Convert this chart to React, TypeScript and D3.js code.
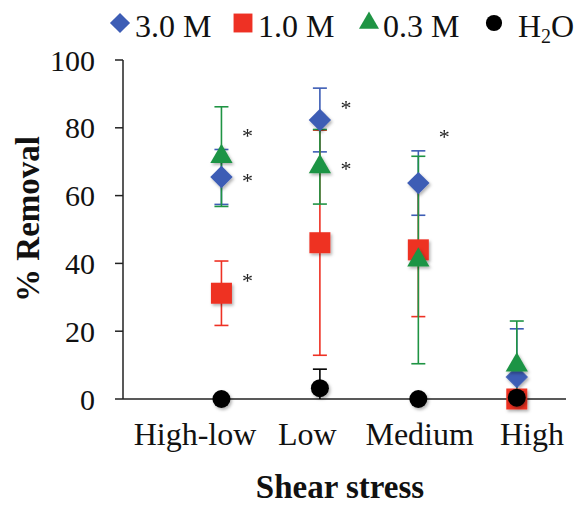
import * as d3 from "d3";
import { useEffect, useRef } from "react";

const CATEGORIES = ["High-low", "Low", "Medium", "High"];
const Y_TICKS = [0, 20, 40, 60, 80, 100];

const MEAN_3M = [65.5, 82.3, 63.7, 6.5];
const ERR_3M = [8.1, 9.4, 9.5, 14.2];
const MEAN_1M = [31.2, 46.1, 44, 0];
const ERR_1M = [9.5, 33.2, 19.7, 0];
const MEAN_03M = [71.5, 68.5, 41, 10];
const ERR_03M = [14.7, 11, 30.6, 13];
const MEAN_H2O = [0, 3.2, 0, 0.4];
const ERR_H2O = [0, 5.6, 0, 0];

// significance stars: category index, y value
const STAR_CAT = [0, 0, 0, 1, 1, 2];
const STAR_VAL = [78.8, 65.5, 36, 87, 69, 78.5];

const FONT = "'Liberation Serif', 'Times New Roman', serif";

type Series = {
  name: string;
  color: string;
  shape: "diamond" | "square" | "triangle" | "circle";
  mean: number[];
  err: number[];
};

const SERIES: Series[] = [
  { name: "3.0 M", color: "#3d5db5", shape: "diamond", mean: MEAN_3M, err: ERR_3M },
  { name: "1.0 M", color: "#ee3124", shape: "square", mean: MEAN_1M, err: ERR_1M },
  { name: "0.3 M", color: "#1f9444", shape: "triangle", mean: MEAN_03M, err: ERR_03M },
  { name: "H2O", color: "#000000", shape: "circle", mean: MEAN_H2O, err: ERR_H2O },
];

function symbolPath(shape: Series["shape"], scale = 1) {
  if (shape === "diamond") return d3.symbol(d3.symbolSquare, 250 * scale * scale)()!;
  if (shape === "square") return d3.symbol(d3.symbolSquare, 441 * scale * scale)()!;
  if (shape === "triangle") return d3.symbol(d3.symbolTriangle, 215 * scale * scale)()!;
  return d3.symbol(d3.symbolCircle, 254 * scale * scale)()!;
}

export default function App() {
  const ref = useRef<SVGSVGElement | null>(null);

  useEffect(() => {
    const svg = d3.select(ref.current);
    svg.selectAll("*").remove();

    const width = 583;
    const height = 506;
    svg.attr("viewBox", `0 0 ${width} ${height}`);

    const defs = svg.append("defs");
    defs
      .append("filter")
      .attr("id", "shadow")
      .attr("x", "-50%")
      .attr("y", "-50%")
      .attr("width", "200%")
      .attr("height", "200%")
      .append("feDropShadow")
      .attr("dx", 1.5)
      .attr("dy", 2)
      .attr("stdDeviation", 1.5)
      .attr("flood-opacity", 0.3);

    const x = d3.scaleLinear().domain([0, 4.5]).range([123, 566]);
    const xLabel = d3.scaleLinear().domain([1, 4]).range([195, 532]);
    const y = d3.scaleLinear().domain([0, 100]).range([399, 60]);

    // y axis
    svg
      .append("line")
      .attr("x1", x(0))
      .attr("x2", x(0))
      .attr("y1", y(0))
      .attr("y2", y(100))
      .attr("stroke", "#222")
      .attr("stroke-width", 1.5);
    Y_TICKS.forEach((t) => {
      svg
        .append("line")
        .attr("x1", x(0) - 8)
        .attr("x2", x(0))
        .attr("y1", y(t))
        .attr("y2", y(t))
        .attr("stroke", "#222")
        .attr("stroke-width", 1.5);
      svg
        .append("text")
        .attr("x", 95)
        .attr("y", y(t))
        .attr("dy", "0.35em")
        .attr("text-anchor", "end")
        .attr("font-family", FONT)
        .attr("font-size", 30)
        .attr("fill", "#111")
        .text(t);
    });

    // x axis
    svg
      .append("line")
      .attr("x1", x(0))
      .attr("x2", x(4.5))
      .attr("y1", y(0))
      .attr("y2", y(0))
      .attr("stroke", "#222")
      .attr("stroke-width", 1.5);

    CATEGORIES.forEach((c, i) => {
      svg
        .append("text")
        .attr("x", xLabel(i + 1))
        .attr("y", 445)
        .attr("text-anchor", "middle")
        .attr("font-family", FONT)
        .attr("font-size", 32)
        .attr("fill", "#111")
        .text(c);
    });

    svg
      .append("text")
      .attr("x", 340)
      .attr("y", 498)
      .attr("text-anchor", "middle")
      .attr("font-family", FONT)
      .attr("font-size", 33)
      .attr("font-weight", "bold")
      .attr("fill", "#111")
      .text("Shear stress");

    svg
      .append("text")
      .attr("transform", "translate(39,219) rotate(-90)")
      .attr("text-anchor", "middle")
      .attr("font-family", FONT)
      .attr("font-size", 33)
      .attr("font-weight", "bold")
      .attr("fill", "#111")
      .text("% Removal");

    // error bars
    const cap = 7;
    SERIES.forEach((s) => {
      s.mean.forEach((m, i) => {
        if (s.err[i] <= 0) return;
        const cx = x(i + 1);
        const hi = m + s.err[i];
        const lo = Math.max(0, m - s.err[i]);
        const g = svg.append("g").attr("stroke", s.color).attr("stroke-width", 1.6);
        g.append("line").attr("x1", cx).attr("x2", cx).attr("y1", y(hi)).attr("y2", y(lo));
        g.append("line").attr("x1", cx - cap).attr("x2", cx + cap).attr("y1", y(hi)).attr("y2", y(hi));
        if (m - s.err[i] > 0) {
          g.append("line").attr("x1", cx - cap).attr("x2", cx + cap).attr("y1", y(lo)).attr("y2", y(lo));
        }
      });
    });

    // markers
    SERIES.forEach((s) => {
      svg
        .append("g")
        .attr("filter", "url(#shadow)")
        .selectAll("path")
        .data(s.mean)
        .enter()
        .append("path")
        .attr("d", symbolPath(s.shape))
        .attr(
          "transform",
          (d, i) => `translate(${x(i + 1)},${y(d)})` + (s.shape === "diamond" ? " rotate(45)" : "")
        )
        .attr("fill", s.color);
    });

    // stars
    STAR_CAT.forEach((c, i) => {
      svg
        .append("text")
        .attr("x", x(c + 1) + 26)
        .attr("y", y(STAR_VAL[i]) + 11)
        .attr("text-anchor", "middle")
        .attr("font-family", FONT)
        .attr("font-size", 22)
        .attr("fill", "#222")
        .text("*");
    });

    // legend
    const legendSym = [120, 243, 369, 494];
    const legendText = [135, 258, 383, 518];
    SERIES.forEach((s, i) => {
      svg
        .append("path")
        .attr("d", symbolPath(s.shape, 0.9))
        .attr(
          "transform",
          `translate(${legendSym[i]},23)` + (s.shape === "diamond" ? " rotate(45)" : "")
        )
        .attr("fill", s.color);
      const t = svg
        .append("text")
        .attr("x", legendText[i])
        .attr("y", 37)
        .attr("font-family", FONT)
        .attr("font-size", 32)
        .attr("fill", "#111");
      if (s.name === "H2O") {
        t.append("tspan").text("H");
        t.append("tspan").attr("font-size", 20).attr("dy", 6).text("2");
        t.append("tspan").attr("dy", -6).text("O");
      } else {
        t.text(s.name);
      }
    });
  }, []);

  return (
    <svg
      ref={ref}
      width={583}
      height={506}
      style={{ position: "absolute", left: 0, top: 0, background: "#fff" }}
    />
  );
}
